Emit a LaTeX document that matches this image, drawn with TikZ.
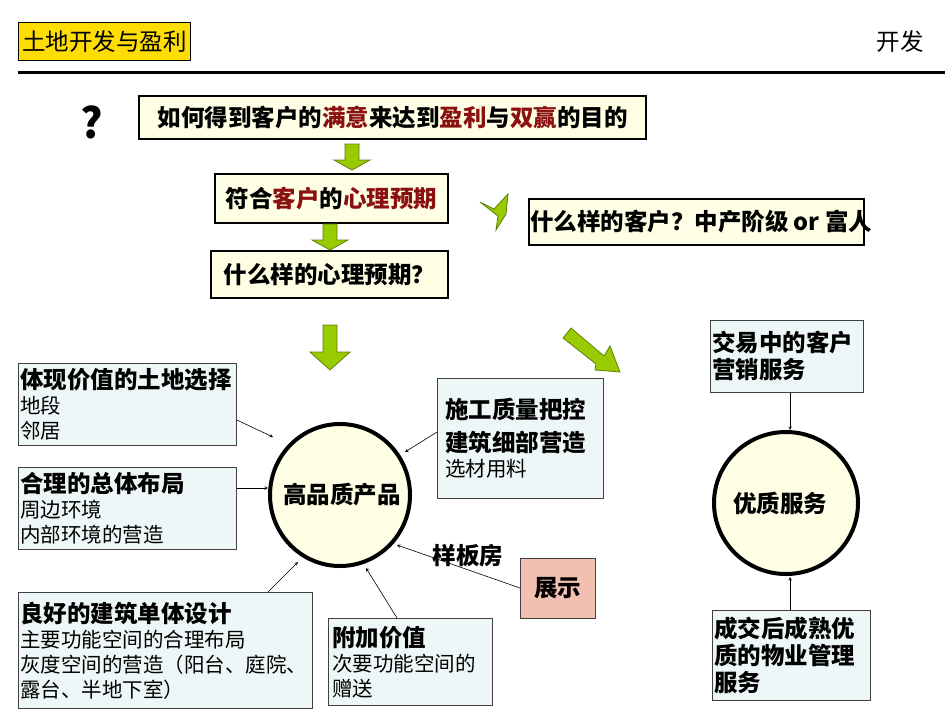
\documentclass[tikz,border=0pt]{standalone}
\usepackage{fontspec}
\setmainfont{Noto Sans CJK SC}
\usetikzlibrary{calc}
\definecolor{dred}{HTML}{8B1010}
\definecolor{cream}{HTML}{FFFFE6}
\definecolor{lblue}{HTML}{EEF7F7}
\definecolor{pink}{HTML}{F2C0B0}
\definecolor{gfill}{HTML}{99CC00}
\definecolor{gline}{HTML}{5E7F10}
\newcommand\hd{\bfseries\fontsize{23.5}{27}\selectfont}
\tikzset{
  qbox/.style={draw=black,line width=2pt,fill=cream,anchor=north west,inner sep=0pt,font=\bfseries\fontsize{23.5}{27}\selectfont},
  ibox/.style={draw=black!75,line width=0.8pt,fill=lblue,anchor=north west,inner xsep=2pt,inner ysep=1pt,align=left,font=\fontsize{20.5}{25}\selectfont},
  con/.style={-stealth,line width=0.6pt},
  garrow/.style={fill=gfill,draw=gline,line width=0.8pt},
}
\begin{document}
\begin{tikzpicture}[x=1pt,y=-1pt]
\useasboundingbox (0,0) rectangle (950,713);
\fill[white] (0,0) rectangle (950,713);
% header
\node[draw=black,line width=0.8pt,fill=yellow!80!orange,anchor=north west,minimum width=172pt,minimum height=38pt,font=\fontsize{23.5}{27}\selectfont] (title) at (18,22) {土地开发与盈利};
\node[font=\fontsize{23.5}{27}\selectfont] (dev) at (900,42) {开发};
\draw[line width=3pt] (18,72) -- (945,72);
\node[font=\bfseries\fontsize{42}{46}\selectfont] (q) at (92,122) {?};
% question boxes
\node[qbox,minimum width=507pt,minimum height=43pt] (b1) at (138,95) {如何得到客户的\textcolor{dred}{满意}来达到\textcolor{dred}{盈利}与\textcolor{dred}{双赢}的目的};
\node[qbox,minimum width=233pt,minimum height=49pt] (b2) at (214,173) {符合\textcolor{dred}{客户}的\textcolor{dred}{心理预期}};
\node[qbox,minimum width=237pt,minimum height=47pt] (b3) at (210,250) {什么样的心理预期？};
\node[qbox,minimum width=335pt,minimum height=46pt] (b4) at (528,198) {\raisebox{-5pt}{\makebox[335pt][l]{\hspace{1pt}什么样的客户？中产阶级 or 富人}}};
% green arrows
\draw[garrow] (345,144) -- (359,144) -- (359,160) -- (370,160) -- (352,170) -- (334,160) -- (345,160) -- cycle;
\draw[garrow] (323,224) -- (337,224) -- (337,240) -- (348,240) -- (330,250) -- (312,240) -- (323,240) -- cycle;
\draw[garrow] (323,325) -- (337,325) -- (337,352) -- (350,352) -- (330,370) -- (310,352) -- (323,352) -- cycle;
\draw[garrow] (563,338) -- (571,328) -- (604,356) -- (610,346) -- (620,372) -- (595,370) -- (596,364) -- cycle;
\draw[garrow] (480,202) -- (494,209) -- (508,194) -- (506,214) -- (496,230) -- (498,216) -- cycle;
% info boxes
\node[ibox,minimum width=218pt,minimum height=82pt,text width=214pt] (l1) at (18,363) {{\hd 体现价值的土地选择}\\地段\\邻居};
\node[ibox,minimum width=218pt,minimum height=82pt,text width=214pt] (l2) at (18,467) {{\hd 合理的总体布局}\\周边环境\\内部环境的营造};
\node[ibox,minimum width=294pt,minimum height=116pt,text width=290pt] (l3) at (18,592) {{\hd 良好的建筑单体设计}\\主要功能空间的合理布局\\灰度空间的营造（阳台、庭院、\\露台、半地下室）};
\node[ibox,minimum width=164pt,minimum height=87pt,text width=156pt,inner xsep=4pt] (l4) at (328,618) {{\hd 附加价值}\\次要功能空间的\\赠送};
\node[ibox,minimum width=166pt,minimum height=120pt,text width=150pt,inner xsep=8pt] (r1) at (437,378) {{\hd 施工质量把控}\\[8pt]{\hd 建筑细部营造}\\选材用料};
\node[draw=black!75,line width=0.8pt,fill=pink,anchor=north west,minimum width=75pt,minimum height=60pt,font=\hd] (show) at (520,558) {展示};
\node[font=\hd] (ybf) at (468,556) {样板房};
\node[ibox,minimum width=153pt,minimum height=72pt,text width=149pt,font=\hd] (t1) at (710,320) {交易中的客户\\营销服务};
\node[ibox,minimum width=158pt,minimum height=90pt,text width=154pt,font=\hd] (t2) at (712,610) {成交后成熟优\\质的物业管理\\服务};
% ellipses
\draw[line width=4pt,fill=cream] (340,495) ellipse [x radius=70,y radius=71];
\node[font=\hd] (e1) at (342,495) {高品质产品};
\draw[line width=4pt,fill=cream] (786,503) ellipse [x radius=72,y radius=71];
\node[font=\hd] (e2) at (780,503) {优质服务};
% connectors
\coordinate (c1) at (273,437);
\coordinate (c2) at (268,488);
\coordinate (c3) at (298,562);
\coordinate (c4) at (366,568);
\coordinate (c5) at (405,452);
\coordinate (c6) at (397,545);
\coordinate (c7) at (790,430);
\coordinate (c8) at (790,577);
\draw[con] (l1.east |- 0,420) -- (c1);
\draw[con] (l2.east |- 0,488) -- (c2);
\draw[con] (268,592) -- (c3);
\draw[con] (397,618) -- (c4);
\draw[con] (437,432) -- (c5);
\draw[con] (520,588) -- (c6);
\draw[con] (t1.south -| 790,0) -- (c7);
\draw[con] (t2.north -| 790,0) -- (c8);
\end{tikzpicture}
\end{document}
